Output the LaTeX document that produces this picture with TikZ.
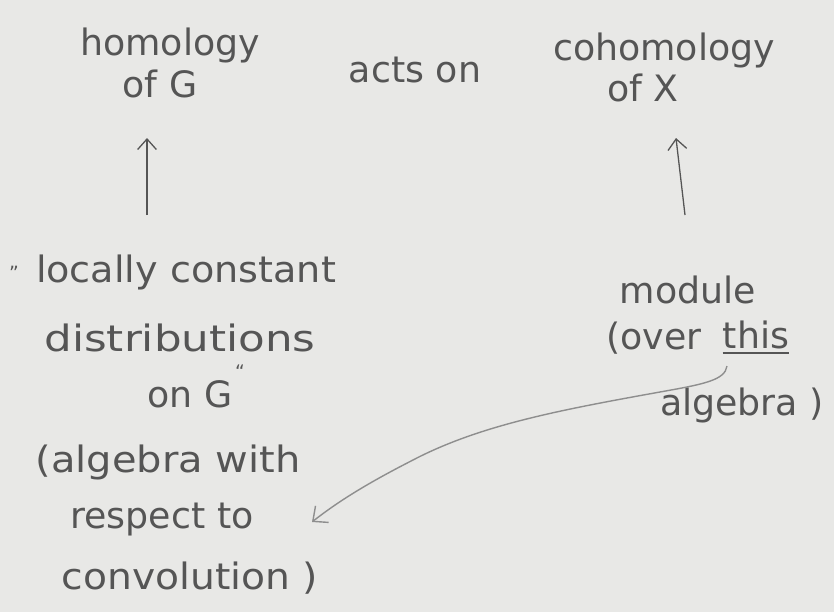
\documentclass[tikz,border=0pt]{standalone}
\usepackage{fontspec}
\setmainfont{DejaVu Sans}
\usetikzlibrary{arrows.meta}
\definecolor{paper}{HTML}{E8E8E6}
\definecolor{ink}{HTML}{555555}
\definecolor{pencil}{HTML}{8E8E8E}
\begin{document}
\begin{tikzpicture}[x=0.03cm,y=-0.03cm,
  hw/.style={text=ink,font=\fontsize{31}{36}\selectfont,inner sep=0pt},
  quote/.style={text=ink,font=\fontsize{16}{18}\selectfont,inner sep=0pt},
  uparrow/.style={draw=ink,line width=1.1pt,-{Straight Barb[length=9pt,width=16pt]}},
  pencilarrow/.style={draw=pencil,line width=1.2pt,-{Straight Barb[length=10pt,width=18pt]}}]
\fill[paper] (0,0) rectangle (834,612);
\useasboundingbox (0,0) rectangle (834,612);
% top row
\node[hw] (hom) at (170,45) {homology};
\node[hw] (ofG) at (160,84) {of G};
\node[hw] (acts) at (415,70) {acts on};
\node[hw] (coh) at (664,50) {cohomology};
\node[hw] (ofX) at (643,88) {of X};
% vertical arrows
\coordinate (a1s) at (147,215);
\coordinate (a1e) at (147,138);
\coordinate (a2s) at (685,215);
\coordinate (a2e) at (676,138);
\draw[uparrow] (a1s) -- (a1e);
\draw[uparrow] (a2s) -- (a2e);
% left block
\node[quote] (q1) at (14,268) {„};
\node[hw,xscale=1.05] (lc) at (186,272) {locally constant};
\node[hw,xscale=1.2] (dist) at (180,338) {distributions};
\node[hw] (onG) at (190,394) {on G};
\node[quote] (q2) at (240,372) {“};
\node[hw,xscale=1.1] (alg) at (168,462) {(algebra with};
\node[hw] (resp) at (162,520) {respect to};
\node[hw,xscale=1.08] (conv) at (190,578) {convolution )};
% right block
\node[hw] (mod) at (688,290) {module};
\node[hw] (over) at (654,338) {(over};
\node[hw] (this) at (756,335) {this};
\draw[ink,line width=2pt] ([yshift=-3pt]this.south west) -- ([yshift=-3pt]this.south east);
\node[hw] (alg2) at (742,405) {algebra )};
% curved pencil arrow
\coordinate (cs) at (727,366);
\coordinate (ce) at (312,522);
\draw[pencilarrow] (cs) .. controls (725,380) and (705,384) .. (660,392)
  .. controls (560,410) and (480,425) .. (413,460)
  .. controls (370,482) and (340,500) .. (ce);
\end{tikzpicture}
\end{document}
